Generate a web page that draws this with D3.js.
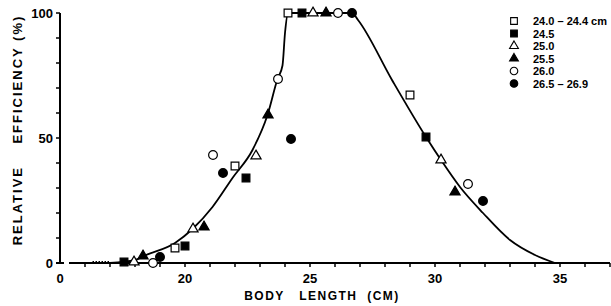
<!DOCTYPE html>
<html>
<head>
<meta charset="utf-8">
<script src="https://cdn.jsdelivr.net/npm/d3@7"></script>
<style>
  body { margin: 0; background: #fff; }
  text { font-family: "Liberation Sans", Arial, sans-serif; font-weight: bold; fill: #000; }
</style>
</head>
<body>
<div id="chart"></div>
<script>
// series: [body length (cm), relative efficiency (%)]
var s240 = [[19.6, 6], [22.0, 38.8], [24.12, 100], [29.0, 67.2]];
var s245 = [[17.56, 0.4], [20.0, 6.8], [22.44, 34], [24.68, 100], [29.64, 50.4]];
var s250 = [[17.96, 0.4], [20.32, 13.6], [22.84, 42.8], [25.12, 100], [30.24, 41.2]];
var s255 = [[18.32, 2.8], [20.76, 14.4], [23.32, 59.2], [25.64, 100], [30.8, 28.4]];
var s260 = [[18.72, 0], [21.12, 43.2], [23.72, 73.6], [26.12, 100], [31.32, 31.6]];
var s265 = [[19.0, 2.4], [21.52, 36], [24.24, 49.6], [26.68, 100], [31.92, 24.8]];

// fitted curve
var curveX = [17.0, 18.0, 18.4, 19.6, 20.3, 21.1, 21.9, 22.7, 23.3, 23.7, 23.9, 24.0, 24.12, 26.68, 26.92, 28.28, 29.64, 30.24, 31.0, 31.92, 33.0, 34.0, 34.8];
var curveY = [0, 1.2, 3, 8, 13.6, 22.4, 34, 45.2, 59.2, 73.6, 79, 92, 100, 100, 97.2, 73.2, 50.4, 41.2, 30.4, 20, 9.2, 3.2, 0];

var legendLabels = ["24.0 \u2013 24.4 cm", "24.5", "25.0", "25.5", "26.0", "26.5 \u2013 26.9"];
var xTickLabels = [20, 25, 30, 35];
var yTickLabels = [0, 50, 100];

var W = 611, H = 306;
var svg = d3.select("#chart").append("svg")
    .attr("width", W)
    .attr("height", H);

var x = d3.scaleLinear().domain([15, 37]).range([60, 610]);
var y = d3.scaleLinear().domain([0, 100]).range([263, 13]);

// y axis with foot
svg.append("line")
    .attr("x1", x(15)).attr("x2", x(15))
    .attr("y1", y(100)).attr("y2", y(0))
    .attr("stroke", "#000").attr("stroke-width", 2);
svg.append("line")
    .attr("x1", x(15) - 4).attr("x2", x(15) + 4)
    .attr("y1", y(0)).attr("y2", y(0))
    .attr("stroke", "#000").attr("stroke-width", 2);

svg.selectAll(".ytick")
    .data(d3.range(10, 101, 10))
    .enter().append("line")
    .attr("x1", x(15) - 4).attr("x2", x(15))
    .attr("y1", d => y(d)).attr("y2", d => y(d))
    .attr("stroke", "#000").attr("stroke-width", 1.5);

svg.selectAll(".ylab")
    .data(yTickLabels)
    .enter().append("text")
    .attr("x", x(15) - 7)
    .attr("y", d => y(d) + 5)
    .attr("text-anchor", "end")
    .style("font-size", "13px")
    .text(d => d);

// x axis, broken near the origin
svg.append("line")
    .attr("x1", 69).attr("x2", 610)
    .attr("y1", y(0)).attr("y2", y(0))
    .attr("stroke", "#000").attr("stroke-width", 2);
// dotted lead-in of the curve
svg.append("line")
    .attr("x1", x(16.3)).attr("x2", x(17.0))
    .attr("y1", y(0) - 1.5).attr("y2", y(0) - 1.5)
    .attr("stroke", "#000").attr("stroke-width", 1)
    .attr("stroke-dasharray", "1.5,1.5");

svg.selectAll(".xtick")
    .data(d3.range(16, 38))
    .enter().append("line")
    .attr("x1", d => x(d)).attr("x2", d => x(d))
    .attr("y1", y(0)).attr("y2", y(0) + 4)
    .attr("stroke", "#000").attr("stroke-width", 1.5);

svg.selectAll(".xlab")
    .data(xTickLabels)
    .enter().append("text")
    .attr("x", d => x(d))
    .attr("y", 283)
    .attr("text-anchor", "middle")
    .style("font-size", "13px")
    .text(d => d);

svg.append("text")
    .attr("x", x(15)).attr("y", 283)
    .attr("text-anchor", "middle")
    .style("font-size", "13px")
    .text("0");

// axis titles
svg.append("text")
    .attr("x", 322).attr("y", 300)
    .attr("text-anchor", "middle")
    .style("font-size", "12px")
    .style("letter-spacing", "1.5px")
    .attr("xml:space", "preserve")
    .text("BODY   LENGTH  (CM)");

svg.append("text")
    .attr("transform", "translate(22,130) rotate(-90)")
    .attr("text-anchor", "middle")
    .style("font-size", "13px")
    .style("letter-spacing", "2px")
    .attr("xml:space", "preserve")
    .text("RELATIVE    EFFICIENCY (%)");

// curve
var curvePts = curveX.map((d, i) => [d, curveY[i]]);
svg.append("path")
    .datum(curvePts)
    .attr("fill", "none")
    .attr("stroke", "#000")
    .attr("stroke-width", 1.8)
    .attr("d", d3.line()
        .x(d => x(d[0]))
        .y(d => y(d[1]))
        .curve(d3.curveMonotoneX));

// markers
var styles = [
    {data: s240, shape: d3.symbolSquare, fill: "#fff", size: 60},
    {data: s245, shape: d3.symbolSquare, fill: "#000", size: 60},
    {data: s250, shape: d3.symbolTriangle, fill: "#fff", size: 45},
    {data: s255, shape: d3.symbolTriangle, fill: "#000", size: 45},
    {data: s260, shape: d3.symbolCircle, fill: "#fff", size: 60},
    {data: s265, shape: d3.symbolCircle, fill: "#000", size: 60}
];

styles.forEach(function(s) {
    svg.append("g").selectAll("path")
        .data(s.data)
        .enter().append("path")
        .attr("transform", d => `translate(${x(d[0])},${y(d[1])})`)
        .attr("d", d3.symbol().type(s.shape).size(s.size))
        .attr("fill", s.fill)
        .attr("stroke", "#000")
        .attr("stroke-width", 1.2);
});

// legend
var legend = svg.append("g");
styles.forEach(function(s, i) {
    var ly = 21 + i * 12.5;
    legend.append("path")
        .attr("transform", `translate(514,${ly})`)
        .attr("d", d3.symbol().type(s.shape).size(s.size * 0.75))
        .attr("fill", s.fill)
        .attr("stroke", "#000")
        .attr("stroke-width", 1.1);
    legend.append("text")
        .attr("x", 533).attr("y", ly + 4)
        .style("font-size", "11px")
        .text(legendLabels[i]);
});
</script>
</body>
</html>
